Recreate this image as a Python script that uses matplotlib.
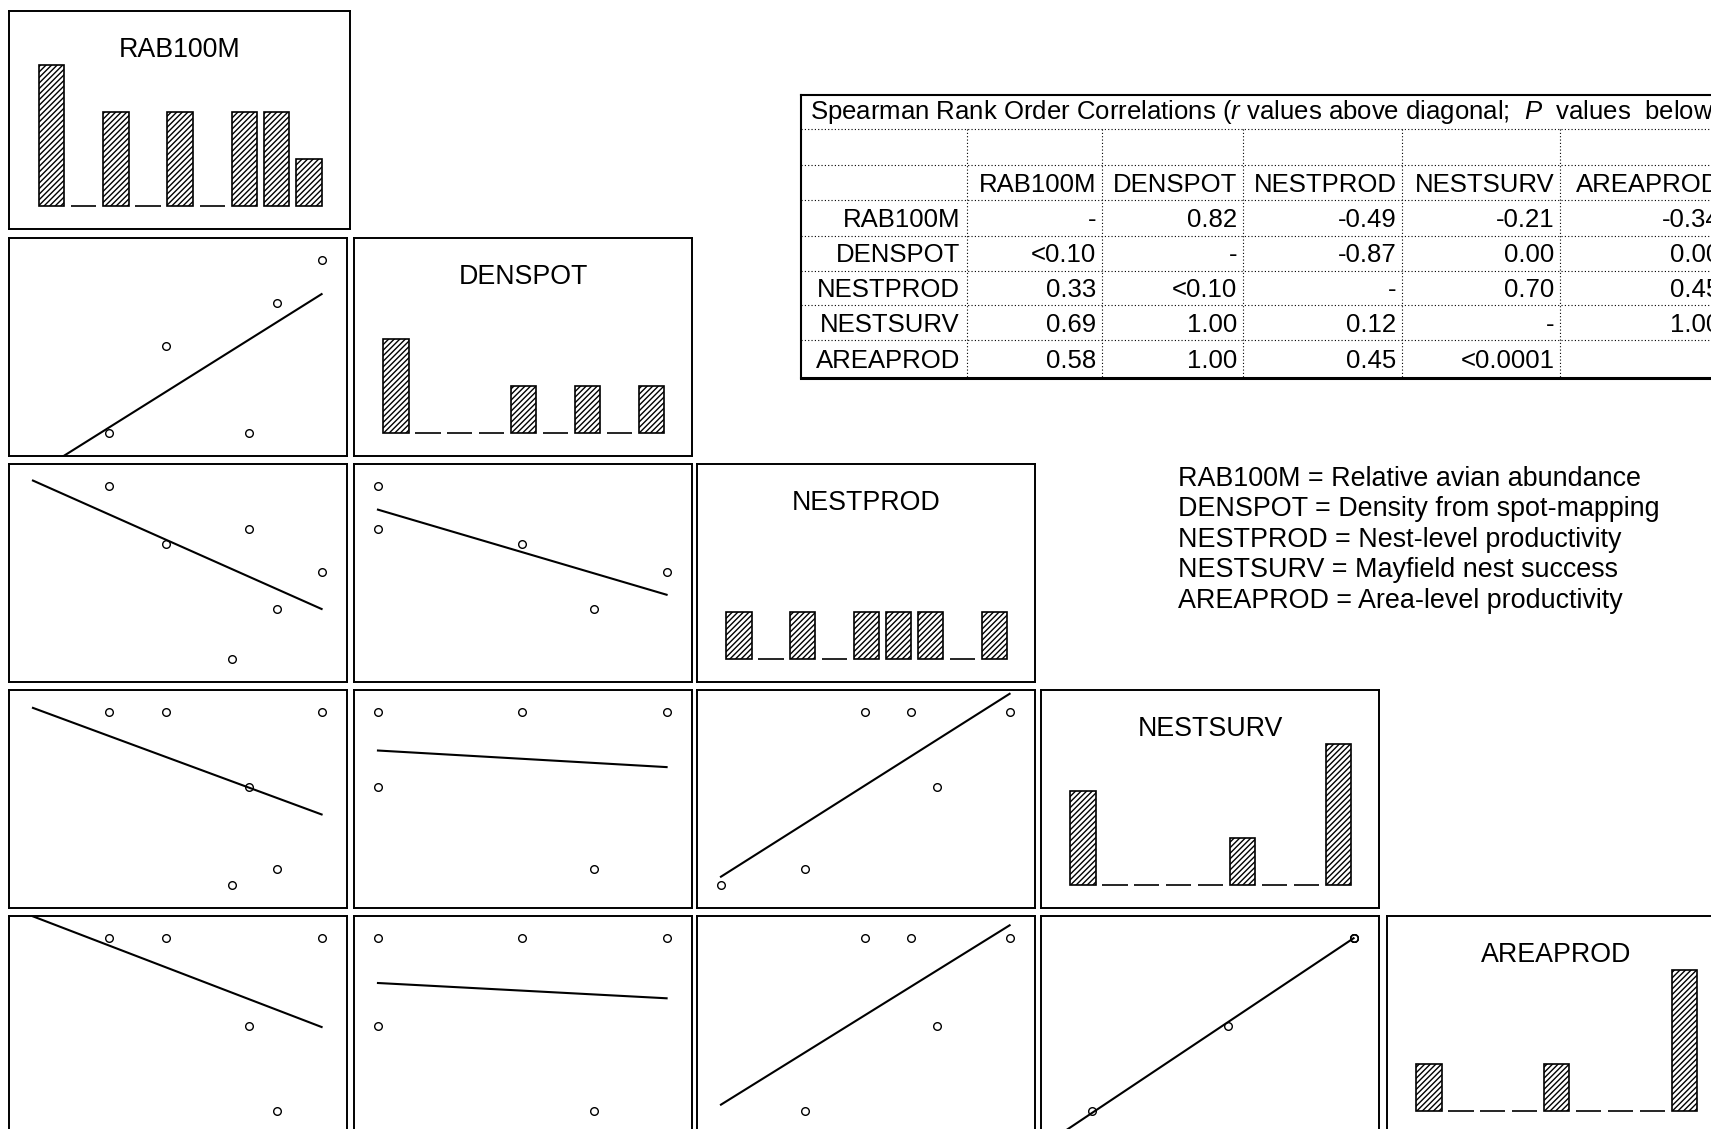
import numpy as np
import matplotlib
matplotlib.use("Agg")
import matplotlib.pyplot as plt

plt.rcParams['font.family'] = ['Liberation Sans', 'DejaVu Sans']
plt.rcParams['mathtext.fontset'] = 'custom'
plt.rcParams['mathtext.rm'] = 'Liberation Sans'
plt.rcParams['mathtext.it'] = 'Liberation Sans:italic'
plt.rcParams['hatch.linewidth'] = 1.0

variables = ["RAB100M", "DENSPOT", "NESTPROD", "NESTSURV", "AREAPROD"]
descriptions = ["Relative avian abundance", "Density from spot-mapping",
                "Nest-level productivity", "Mayfield nest success",
                "Area-level productivity"]

# Site values, each scaled to its variable's range (0 = min, 1 = max)
rab100m = [0.265, 0.46, 0.69, 0.75, 0.847, 1.00]
denspot = [0.00, 0.50, np.nan, 0.00, 0.75, 1.00]
nestprod = [1.00, 0.66, 0.00, 0.75, 0.29, 0.50]
nestsurv = [1.00, 1.00, 0.00, 0.566, 0.094, 1.00]
areaprod = [1.00, 1.00, np.nan, 0.49, 0.00, 1.00]

# Frequency counts in 9 equal-width bins for the diagonal histograms
hist_rab100m = [3, 0, 2, 0, 2, 0, 2, 2, 1]
hist_denspot = [2, 0, 0, 0, 1, 0, 1, 0, 1]
hist_nestprod = [1, 0, 1, 0, 1, 1, 1, 0, 1]
hist_nestsurv = [2, 0, 0, 0, 0, 1, 0, 0, 3]
hist_areaprod = [1, 0, 0, 0, 1, 0, 0, 0, 3]

# Spearman r above the diagonal, P below
corr_table = [
    ["-", "0.82", "-0.49", "-0.21", "-0.34"],
    ["<0.10", "-", "-0.87", "0.00", "0.00"],
    ["0.33", "<0.10", "-", "0.70", "0.45"],
    ["0.69", "1.00", "0.12", "-", "1.00"],
    ["0.58", "1.00", "0.45", "<0.0001", "-"],
]

values = [np.array(v, dtype=float) for v in (rab100m, denspot, nestprod, nestsurv, areaprod)]
hists = [hist_rab100m, hist_denspot, hist_nestprod, hist_nestsurv, hist_areaprod]

W, H = 1711, 1129
fig = plt.figure(figsize=(W / 100, H / 100), dpi=100)
FS = 18.5        # table text
FS_TITLE = 19.3  # panel titles
FS_KEY = 19.4    # variable key

col_left = [9, 354, 697, 1041, 1387]
row_top = [11, 238, 464, 690, 916]
pw, ph = 338, 218


def px_axes(x, y, w, h):
    ax = fig.add_axes([x / W, 1 - (y + h) / H, w / W, h / H])
    ax.set_xticks([])
    ax.set_yticks([])
    for s in ax.spines.values():
        s.set_linewidth(1.4)
        s.set_color("black")
    return ax


for i in range(5):
    for j in range(i + 1):
        w = pw + 3 if (i == 0 and j == 0) else pw
        ax = px_axes(col_left[j], row_top[i], w, ph)
        if i == j:
            counts = hists[i]
            ax.bar(np.arange(len(counts)), counts, width=0.79, color="white",
                   edgecolor="black", hatch="//////", linewidth=1.2)
            ax.set_xlim(-1.32, 9.28)
            ax.set_ylim(-0.49, 4.15)
            ax.text(0.5, 0.823, variables[i], transform=ax.transAxes,
                    ha="center", va="center", fontsize=FS_TITLE)
        else:
            x = values[j]
            y = values[i]
            ok = ~np.isnan(x) & ~np.isnan(y)
            slope, icpt = np.polyfit(x[ok], y[ok], 1)
            xs = np.array([0.0, 1.0])
            ax.plot(xs, icpt + slope * xs, color="black", lw=1.5)
            ax.plot(x[ok], y[ok], "o", mfc="none", mec="black", ms=5.5, mew=1.0)
            ax.set_xlim(-0.083, 1.088)
            ax.set_ylim(-0.133, 1.124)

# Overlay in pixel units for the correlation table and the key
ov = fig.add_axes([0, 0, 1, 1])
ov.set_xlim(0, W)
ov.set_ylim(H, 0)
ov.axis("off")

tab_left, tab_top, tab_bottom = 801, 95, 378
hlines = [129, 165, 200, 236, 271, 305, 340]
vlines = [967, 1102, 1243, 1402, 1560, 1726]
dot = (0, (1, 2))

ov.plot([tab_left, W + 20], [tab_top, tab_top], color="black", lw=1.5)
ov.plot([tab_left, tab_left], [tab_top, tab_bottom], color="black", lw=1.5)
ov.plot([tab_left, W + 20], [tab_bottom, tab_bottom], color="black", lw=2.2)
for y in hlines:
    ov.plot([tab_left, W + 20], [y, y], color="black", lw=0.8, ls=dot)
for x in vlines:
    ov.plot([x, x], [hlines[0], tab_bottom], color="black", lw=0.8, ls=dot)

ov.text(tab_left + 9, 119,
        "Spearman Rank Order Correlations ($r$ values above diagonal;  $P$  values  below diagonal)",
        fontsize=FS, ha="left", va="baseline")

row_edges = [165] + hlines[2:] + [tab_bottom]
gap = 5.5
# header row
yc = (row_edges[0] + row_edges[1]) / 2 + 9
for k, name in enumerate(variables):
    ov.text(vlines[k + 1] - gap, yc, name, fontsize=FS, ha="right", va="baseline")
# body rows
for r, name in enumerate(variables):
    yc = (row_edges[r + 1] + row_edges[r + 2]) / 2 + 9
    ov.text(vlines[0] - 7, yc, name, fontsize=FS, ha="right", va="baseline")
    for k, cell in enumerate(corr_table[r]):
        ov.text(vlines[k + 1] - gap, yc, cell, fontsize=FS, ha="right", va="baseline")

# variable key
for k, (name, desc) in enumerate(zip(variables, descriptions)):
    ov.text(1178, 477 + 30.4 * k + 9, f"{name} = {desc}", fontsize=FS_KEY,
            ha="left", va="baseline")

fig.savefig("out.png", dpi=100)
